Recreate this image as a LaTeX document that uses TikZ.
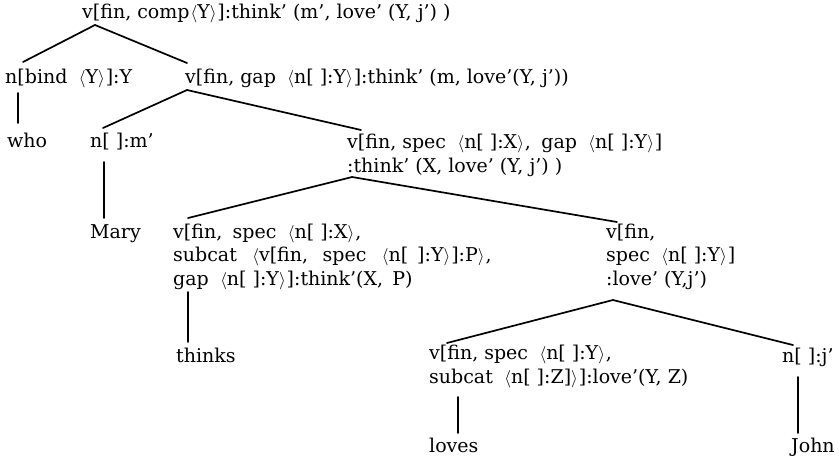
\documentclass[tikz,border=0pt]{standalone}
\usepackage{fontspec}
\setmainfont{DejaVu Serif}
\usetikzlibrary{calc}
\newcommand\LA{\hspace{0.05em}$\langle$}
\newcommand\RA{$\rangle$\hspace{0.05em}}
\newcommand\SP{\hspace{0.55em}}
\newcommand\WS{\hspace{0.55em}}
\tikzset{
  lbl/.style={anchor=base west, inner sep=0pt, align=left, font=\fontsize{19}{23.5}\selectfont},
  edge/.style={line width=1.7pt, line cap=round}
}
\begin{document}
\begin{tikzpicture}[x=1pt,y=-1pt]
\useasboundingbox[fill=white] (0,0) rectangle (839,458);
\node[lbl] (root) at (82,18) {v[fin, comp\LA Y\RA]:think' (m', love' (Y, j') )};
\node[lbl] (bind) at (5,83) {n[bind\SP\LA Y\RA]:Y};
\node[lbl] (gap) at (185,83) {v[fin, gap\SP\LA n[ ]:Y\RA]:think' (m, love'(Y, j'))};
\node[lbl] (who) at (7,147) {who};
\node[lbl] (m) at (90,147) {n[ ]:m'};
\node[lbl] (thk) at (347,172) {v[fin, spec\SP\LA n[ ]:X\RA,\SP gap\SP\LA n[ ]:Y\RA]\\:think' (X, love' (Y, j') )};
\node[lbl] (mary) at (90,238) {Mary};
\node[lbl] (thkx) at (173,285) {v[fin,\WS spec\SP\LA n[ ]:X\RA,\\subcat\SP\hspace{4pt}\LA v[fin,\WS\hspace{4pt}spec\SP\hspace{4pt}\LA n[\hspace{3pt} ]:Y\RA]:P\RA,\\gap\SP\LA n[ ]:Y\RA]:think'(X,\hspace{3pt} P)};
\node[lbl] (lov) at (606,285) {v[fin,\\spec\SP\LA n[ ]:Y\RA]\\:love' (Y,j')};
\node[lbl] (thinks) at (176,362) {thinks};
\node[lbl] (lyz) at (429,383) {v[fin, spec\SP\LA n[ ]:Y\RA,\\subcat\SP\LA n[ ]:Z]\RA]:love'(Y, Z)};
\node[lbl] (j) at (782,362) {n[ ]:j'};
\node[lbl] (loves) at (429,452) {loves};
\node[lbl] (john) at (791,452) {John};
\draw[edge] ($(root.base west)+(13,7)$) -- ($(bind.base west)+(18,-21)$);
\draw[edge] ($(root.base west)+(13,7)$) -- ($(gap.base west)+(2,-20)$);
\draw[edge] ($(bind.base west)+(13,10)$) -- ($(who.base west)+(11,-24)$);
\draw[edge] ($(gap.base west)+(2,7)$) -- ($(m.base west)+(13,-19)$);
\draw[edge] ($(gap.base west)+(2,7)$) -- ($(thk.base west)+(14,-42)$);
\draw[edge] ($(m.base west)+(14,15)$) -- ($(mary.base west)+(14,-20)$);
\draw[edge] ($(thk.base west)+(5,5)$) -- ($(thkx.base west)+(15,-67)$);
\draw[edge] ($(thk.base west)+(5,5)$) -- ($(lov.base west)+(11,-63)$);
\draw[edge] ($(thkx.base west)+(15,7)$) -- ($(thinks.base west)+(12,-20)$);
\draw[edge] ($(lov.base west)+(7,15)$) -- ($(lyz.base west)+(18,-40)$);
\draw[edge] ($(lov.base west)+(7,15)$) -- ($(j.base west)+(11,-17)$);
\draw[edge] ($(lyz.base west)+(29,14)$) -- ($(loves.base west)+(29,-19)$);
\draw[edge] ($(j.base west)+(16,15)$) -- ($(john.base west)+(7,-19)$);
\end{tikzpicture}
\end{document}
